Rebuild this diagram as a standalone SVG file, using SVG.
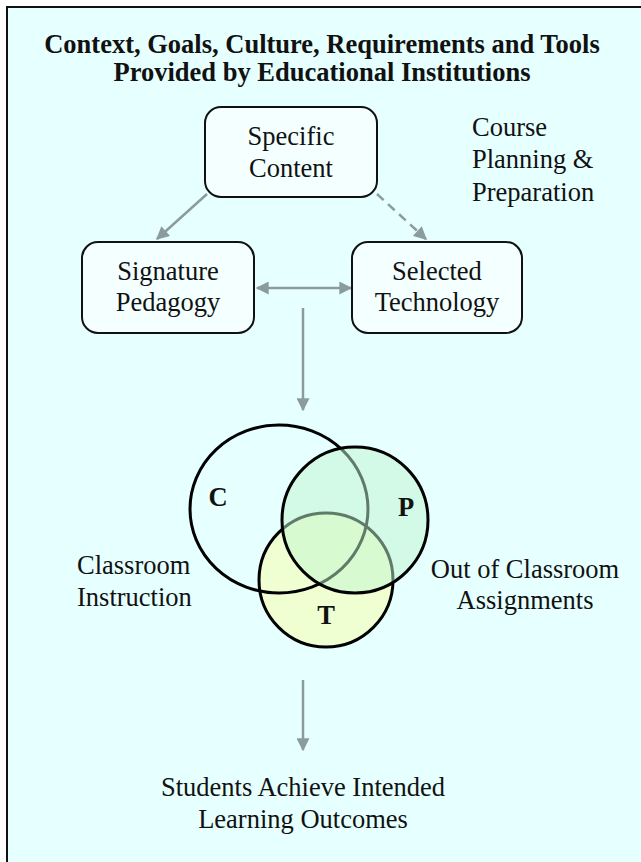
<svg xmlns="http://www.w3.org/2000/svg" width="641" height="862" viewBox="0 0 641 862">
<style>
.t{font-family:"Liberation Serif","Times New Roman",serif;font-size:26.5px;fill:#111}
.b{font-weight:bold}
.c{text-anchor:middle}
.box{fill:#F4FFFF;stroke:#111;stroke-width:2}
.ln{stroke:#8C9C9C;stroke-width:2.5;fill:none}
.v{stroke:#000;stroke-width:3}
</style>
<defs>
<marker id="ah" viewBox="0 0 10 10" refX="9" refY="5" markerWidth="5.8" markerHeight="5.2" orient="auto-start-reverse" markerUnits="strokeWidth">
<path d="M0,0 L10,5 L0,10 z" fill="#8C9C9C"/>
</marker>
</defs>
<rect id="frame" x="7" y="7" width="650" height="870" fill="#E6FFFF" stroke="#111" stroke-width="2"/>
<g id="title">
<text class="t b c" x="322" y="53" font-size="28">Context, Goals, Culture, Requirements and Tools</text>
<text class="t b c" x="322" y="81" font-size="28">Provided by Educational Institutions</text>
</g>
<g id="connectors">
<line class="ln" x1="207" y1="194" x2="157" y2="239" marker-end="url(#ah)"/>
<line class="ln" x1="377" y1="194" x2="426" y2="239" stroke-dasharray="9,6" marker-end="url(#ah)"/>
<line class="ln" x1="257" y1="288" x2="351" y2="288" marker-start="url(#ah)" marker-end="url(#ah)"/>
<line class="ln" x1="303" y1="308" x2="303" y2="410" marker-end="url(#ah)"/>
<line class="ln" x1="303" y1="680" x2="303" y2="750" marker-end="url(#ah)"/>
</g>
<g id="specific-content">
<rect class="box" x="205" y="107" width="172" height="90" rx="16"/>
<text class="t c" x="291" y="145">Specific</text>
<text class="t c" x="291" y="177">Content</text>
</g>
<g id="course-planning">
<text class="t" x="472" y="136">Course</text>
<text class="t" x="472" y="168">Planning &amp;</text>
<text class="t" x="472" y="201">Preparation</text>
</g>
<g id="signature-pedagogy">
<rect class="box" x="82" y="242" width="172" height="91" rx="16"/>
<text class="t c" x="168" y="280">Signature</text>
<text class="t c" x="168" y="311">Pedagogy</text>
</g>
<g id="selected-technology">
<rect class="box" x="352" y="242" width="170" height="91" rx="16"/>
<text class="t c" x="437" y="280">Selected</text>
<text class="t c" x="437" y="311">Technology</text>
</g>
<g id="venn">
<circle id="T" cx="326" cy="580" r="67" fill="#F0FFD2" class="v"/>
<ellipse id="C" cx="279" cy="509" rx="89" ry="84" fill="none" class="v"/>
<circle id="P" cx="355" cy="520" r="73" fill="#BFF5D0" fill-opacity="0.5" class="v"/>
<text class="t b c" x="218" y="506" font-size="30">C</text>
<text class="t b c" x="406" y="516" font-size="30">P</text>
<text class="t b c" x="326" y="624" font-size="30">T</text>
</g>
<g id="classroom-instruction">
<text class="t" x="77" y="574">Classroom</text>
<text class="t" x="77" y="606">Instruction</text>
</g>
<g id="out-of-classroom">
<text class="t c" x="525" y="578">Out of Classroom</text>
<text class="t c" x="525" y="609">Assignments</text>
</g>
<g id="outcomes">
<text class="t c" x="303" y="796">Students Achieve Intended</text>
<text class="t c" x="303" y="828">Learning Outcomes</text>
</g>
</svg>
